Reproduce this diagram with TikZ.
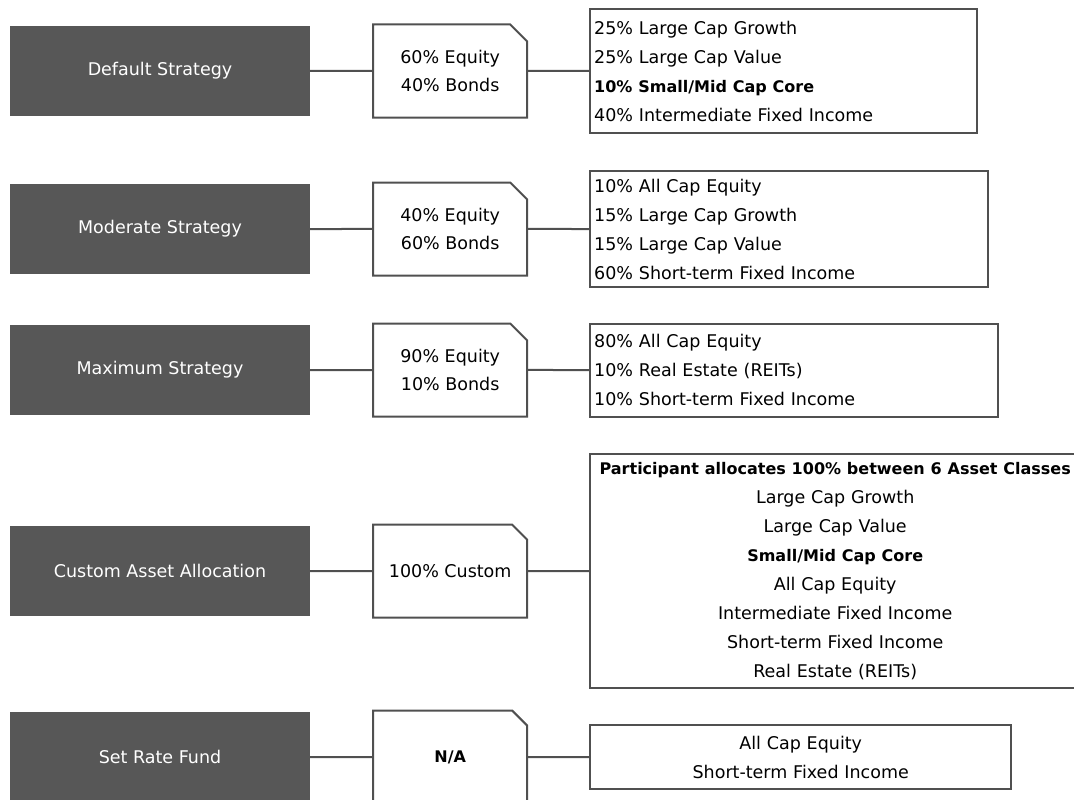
\documentclass[tikz,border=0pt]{standalone}
\usepackage{fontspec}
\setmainfont{DejaVu Sans}
\usepackage{tikz}
\usetikzlibrary{positioning,shapes.misc}
\definecolor{stratgray}{HTML}{575757}
\definecolor{edgegray}{HTML}{505050}
\newcommand{\boldfund}[1]{{\fontsize{16}{29}\selectfont\bfseries #1}}
\tikzset{
  strat/.style={fill=stratgray, text=white, minimum width=300pt, minimum height=90pt, inner sep=0pt},
  split/.style={draw=edgegray, line width=2pt, fill=white, chamfered rectangle,
    chamfered rectangle corners=north east, chamfered rectangle xsep=8.5pt,
    chamfered rectangle ysep=8.5pt, minimum width=154pt, minimum height=93pt,
    inner sep=0pt, align=center},
  funds/.style={draw=edgegray, line width=2pt, inner xsep=4pt, inner ysep=3pt},
  link/.style={draw=edgegray, line width=2pt},
}

\begin{document}
\begin{tikzpicture}[x=1pt, y=1pt, font=\fontsize{17.5}{29}\selectfont, node distance=62pt]
    \useasboundingbox (0,0) rectangle (1074,-800);
    \clip (0,0) rectangle (1074,-800);
    % strategies
    \node[strat] (dflt) at (160,-71) {Default Strategy};
    \node[strat] (mod) at (160,-229) {Moderate Strategy};
    \node[strat] (max) at (160,-370) {Maximum Strategy};
    \node[strat] (cust) at (160,-571) {Custom Asset Allocation};
    \node[strat] (rate) at (160,-757) {Set Rate Fund};
    % equity / bond split
    \node[split, right=of dflt] (dfltS) {60\% Equity\\[-1pt]40\% Bonds};
    \node[split, right=of mod] (modS) {40\% Equity\\[-1pt]60\% Bonds};
    \node[split, right=of max] (maxS) {90\% Equity\\[-1pt]10\% Bonds};
    \node[split, right=of cust] (custS) {100\% Custom};
    \node[split, right=of rate] (rateS) {\boldfund{N/A}};
    % asset classes
    \node[funds, right=61pt of dfltS, text width=379pt, minimum height=123pt, align=left] (dfltF)
      {25\% Large Cap Growth\\25\% Large Cap Value\\\boldfund{10\% Small/Mid Cap Core}\\40\% Intermediate Fixed Income};
    \node[funds, right=61pt of modS, text width=390pt, minimum height=116pt, align=left] (modF)
      {10\% All Cap Equity\\15\% Large Cap Growth\\15\% Large Cap Value\\60\% Short-term Fixed Income};
    \node[funds, right=61pt of maxS, text width=400pt, minimum height=93pt, align=left] (maxF)
      {80\% All Cap Equity\\10\% Real Estate (REITs)\\10\% Short-term Fixed Income};
    \node[funds, right=61pt of custS, text width=482pt, minimum height=234pt, align=center] (custF)
      {\boldfund{Participant allocates 100\% between 6 Asset Classes}\\Large Cap Growth\\Large Cap Value\\
       \boldfund{Small/Mid Cap Core}\\All Cap Equity\\Intermediate Fixed Income\\Short-term Fixed Income\\Real Estate (REITs)};
    \node[funds, right=61pt of rateS, text width=413pt, minimum height=64pt, align=center] (rateF)
      {All Cap Equity\\Short-term Fixed Income};
    % connectors
    \draw[link] (dflt) -- (dfltS) -- (dfltF);
    \draw[link] (mod) -- (modS) -- (modF);
    \draw[link] (max) -- (maxS) -- (maxF);
    \draw[link] (cust) -- (custS) -- (custF);
    \draw[link] (rate) -- (rateS) -- (rateF);
  \end{tikzpicture}
\end{document}
